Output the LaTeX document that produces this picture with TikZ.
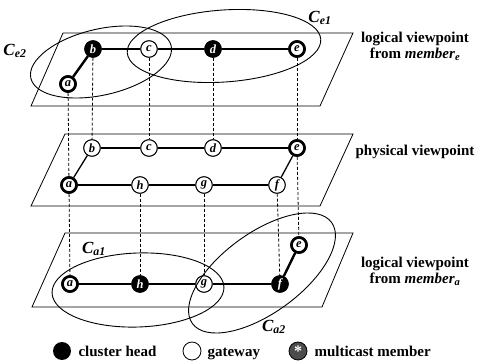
\documentclass[tikz,border=0pt]{standalone}
\usepackage{fontspec}
\setmainfont{Liberation Serif}
\usetikzlibrary{shapes.geometric}
\begin{document}
\begin{tikzpicture}[x=1pt,y=-1pt,
  plane/.style={draw,line width=0.8pt},
  nd/.style={circle,draw,line width=0.9pt,fill=white,minimum size=16.5pt,inner sep=0pt,font=\bfseries\itshape\fontsize{12.5}{12.5}\selectfont},
  head/.style={nd,fill=black,text=white},
  gw/.style={nd},
  mm/.style={nd,line width=2.6pt,minimum size=15pt},
  thick edge/.style={line width=2.4pt},
  thin edge/.style={line width=1.3pt},
  vline/.style={densely dashed,line width=0.8pt},
  clus/.style={draw,line width=0.9pt},
  lbl/.style={font=\bfseries\fontsize{15}{16}\selectfont,align=center},
  leg/.style={lbl,anchor=base west},
  cl/.style={font=\bfseries\itshape\fontsize{17}{17}\selectfont}]
\useasboundingbox (0,0) rectangle (480,361);
% planes
\draw[plane] (31,106) -- (63,33) -- (353,33) -- (320,106) -- cycle;
\draw[plane] (31,206) -- (65,134) -- (353,134) -- (320,206) -- cycle;
\draw[plane] (32,307) -- (65,233) -- (353,233) -- (322,307) -- cycle;
% top plane nodes
\node[mm] (ta) at (68,84) {a};
\node[head] (tb) at (93,49) {b};
\node[gw] (tc) at (149,49) {c};
\node[head] (td) at (213,49) {d};
\node[mm] (te) at (297,49) {e};
% middle plane nodes
\node[gw] (mb) at (92,148) {b};
\node[gw] (mc) at (149,148) {c};
\node[gw] (md) at (213,148) {d};
\node[mm] (me) at (297,148) {e};
\node[mm] (ma) at (69,185) {a};
\node[gw] (mh) at (140,185) {h};
\node[gw] (mg) at (204,185) {g};
\node[gw] (mf) at (277,185) {f};
% bottom plane nodes
\node[mm] (ba) at (70,284) {a};
\node[head] (bh) at (140,284) {h};
\node[gw] (bg) at (204,284) {g};
\node[head] (bf) at (280,284) {f};
\node[mm] (be) at (299,245) {e};
% vertical dashed lines
\draw[vline] (ta) -- (ma);
\draw[vline] (ma) -- (ba);
\draw[vline] (tb) -- (mb);
\draw[vline] (tc) -- (mc);
\draw[vline] (td) -- (md);
\draw[vline] (te) -- (me);
\draw[vline] (me) -- (be);
\draw[vline] (mh) -- (bh);
\draw[vline] (mg) -- (bg);
\draw[vline] (mf) -- (bf);
% edges
\draw[thick edge] (ta) -- (tb);
\draw[thick edge] (tb) -- (tc) -- (td) -- (te);
\draw[thin edge] (mb) -- (mc) -- (md) -- (me);
\draw[thin edge] (ma) -- (mb);
\draw[thin edge] (ma) -- (mh) -- (mg) -- (mf);
\draw[thin edge] (mf) -- (me);
\draw[thick edge] (ba) -- (bh) -- (bg) -- (bf);
\draw[thick edge] (bf) -- (be);
% redraw nodes on top
\node[mm] at (ta) {a};
\node[head] at (tb) {b};
\node[gw] at (tc) {c};
\node[head] at (td) {d};
\node[mm] at (te) {e};
\node[gw] at (mb) {b};
\node[gw] at (mc) {c};
\node[gw] at (md) {d};
\node[mm] at (me) {e};
\node[mm] at (ma) {a};
\node[gw] at (mh) {h};
\node[gw] at (mg) {g};
\node[gw] at (mf) {f};
\node[mm] at (ba) {a};
\node[head] at (bh) {h};
\node[gw] at (bg) {g};
\node[head] at (bf) {f};
\node[mm] at (be) {e};
% clusters
\draw[clus,rotate around={13:(101,62)}] (101,62) ellipse [x radius=72pt, y radius=33pt];
\draw[clus,rotate around={4:(224,46)}] (224,46) ellipse [x radius=97pt, y radius=36pt];
\draw[clus,rotate around={2:(138,290)}] (138,290) ellipse [x radius=86pt, y radius=37pt];
\draw[clus,rotate around={36:(262,273)}] (262,273) ellipse [x radius=86pt, y radius=40pt];
\node[cl] (lce2) at (15,51) {C\textsubscript{e2}};
\node[cl] (lce1) at (320,18) {C\textsubscript{e1}};
\node[cl] (lca1) at (94,249) {C\textsubscript{a1}};
\node[cl] (lca2) at (274,327) {C\textsubscript{a2}};
% side labels
\node[lbl] (l1) at (415,46) {logical viewpoint\\from \textit{member}\textsubscript{\textit{e}}};
\node[lbl] (l2) at (415,152) {physical viewpoint};
\node[lbl] (l3) at (415,271) {logical viewpoint\\from \textit{member}\textsubscript{\textit{a}}};
% legend
\node[circle,fill=black,minimum size=18pt,inner sep=0pt] (lg1) at (62,351) {};
\node[leg] (lt1) at (75,356) {cluster head};
\node[circle,draw,line width=0.8pt,minimum size=18pt,inner sep=0pt] (lg2) at (192,351) {};
\node[leg] (lt2) at (204,356) {gateway};
\node[circle,fill=black!70,draw=black,line width=0.8pt,minimum size=18pt,inner sep=0pt,text=white,font=\bfseries\fontsize{16}{16}\selectfont] (lg3) at (298,351) {*};
\node[leg] (lt3) at (311,356) {multicast member};
\end{tikzpicture}
\end{document}
